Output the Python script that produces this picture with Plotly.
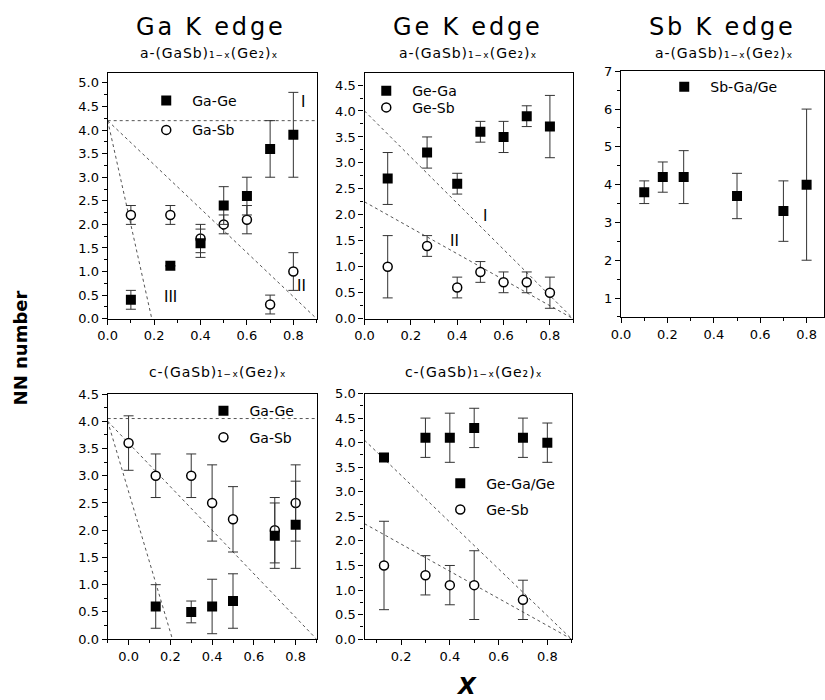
import plotly.graph_objects as go

# ---------------- data ----------------
# Panel 1: Ga K edge, a-(GaSb)1-x(Ge2)x
p1_x = [0.1, 0.27, 0.4, 0.5, 0.6, 0.7, 0.8]
p1_gage = [0.4, 1.12, 1.6, 2.4, 2.6, 3.6, 3.9]
p1_gage_err = [0.2, 0.0, 0.3, 0.4, 0.4, 0.6, 0.9]
p1_gasb = [2.2, 2.2, 1.7, 2.0, 2.1, 0.3, 1.0]
p1_gasb_err = [0.2, 0.2, 0.3, 0.2, 0.3, 0.2, 0.4]

# Panel 2: Ge K edge, a-(GaSb)1-x(Ge2)x
p2_x = [0.1, 0.27, 0.4, 0.5, 0.6, 0.7, 0.8]
p2_gega = [2.7, 3.2, 2.6, 3.6, 3.5, 3.9, 3.7]
p2_gega_err = [0.5, 0.3, 0.2, 0.2, 0.3, 0.2, 0.6]
p2_gesb = [1.0, 1.4, 0.6, 0.9, 0.7, 0.7, 0.5]
p2_gesb_err = [0.6, 0.2, 0.2, 0.2, 0.2, 0.2, 0.3]

# Panel 3: Sb K edge, a-(GaSb)1-x(Ge2)x
p3_x = [0.1, 0.18, 0.27, 0.5, 0.7, 0.8]
p3_sb = [3.8, 4.2, 4.2, 3.7, 3.3, 4.0]
p3_sb_err = [0.3, 0.4, 0.7, 0.6, 0.8, 2.0]

# Panel 4: Ga K edge, c-(GaSb)1-x(Ge2)x
p4_gage_x = [0.13, 0.3, 0.4, 0.5, 0.7, 0.8]
p4_gage = [0.6, 0.5, 0.6, 0.7, 1.9, 2.1]
p4_gage_err = [0.4, 0.2, 0.5, 0.5, 0.6, 0.8]
p4_gasb_x = [0.0, 0.13, 0.3, 0.4, 0.5, 0.7, 0.8]
p4_gasb = [3.6, 3.0, 3.0, 2.5, 2.2, 2.0, 2.5]
p4_gasb_err = [0.5, 0.4, 0.4, 0.7, 0.6, 0.6, 0.7]

# Panel 5: Ge K edge, c-(GaSb)1-x(Ge2)x
p5_gega_x = [0.13, 0.3, 0.4, 0.5, 0.7, 0.8]
p5_gega = [3.7, 4.1, 4.1, 4.3, 4.1, 4.0]
p5_gega_err = [0.08, 0.4, 0.5, 0.4, 0.4, 0.4]
p5_gesb_x = [0.13, 0.3, 0.4, 0.5, 0.7]
p5_gesb = [1.5, 1.3, 1.1, 1.1, 0.8]
p5_gesb_err = [0.9, 0.4, 0.4, 0.7, 0.4]

# Model guide lines (x pairs, y pairs)
p1_lineI = ([0.0, 0.9], [4.2, 4.2])
p1_lineII = ([0.0, 0.9], [4.2, 0.0])
p1_lineIII = ([0.0, 0.19], [4.2, 0.0])
p2_lineI = ([0.0, 0.9], [4.0, 0.0])
p2_lineII = ([0.0, 0.9], [2.25, 0.0])
p4_lineH = ([-0.1, 0.9], [4.05, 4.05])
p4_lineA = ([-0.1, 0.9], [4.0, 0.0])
p4_lineB = ([-0.1, 0.21], [4.0, 0.0])
p5_lineA = ([0.05, 0.9], [4.05, 0.0])
p5_lineB = ([0.05, 0.9], [2.35, 0.0])

W, H = 825, 700
FONT = "DejaVu Sans"

fig = go.Figure()

def px_x(p):
    return p / W

def px_y(p):
    return 1 - p / H

def sq_trace(x, y, e, ax, name, legend):
    return go.Scatter(
        x=x, y=y, mode="markers", name=name, legend=legend,
        xaxis="x" + ax, yaxis="y" + ax,
        marker=dict(symbol="square", size=10, color="black"),
        error_y=dict(type="data", array=e, visible=True, color="#333333",
                     thickness=1, width=5),
    )

def circ_trace(x, y, e, ax, name, legend):
    return go.Scatter(
        x=x, y=y, mode="markers", name=name, legend=legend,
        xaxis="x" + ax, yaxis="y" + ax,
        marker=dict(symbol="circle", size=9, color="white",
                    line=dict(color="black", width=1.5)),
        error_y=dict(type="data", array=e, visible=True, color="#333333",
                     thickness=1, width=5),
    )

def guide(line, ax):
    return go.Scatter(
        x=line[0], y=line[1], mode="lines", showlegend=False,
        xaxis="x" + ax, yaxis="y" + ax, hoverinfo="skip",
        line=dict(color="#555555", width=1, dash="dot"),
    )

for ln in (p1_lineI, p1_lineII, p1_lineIII):
    fig.add_trace(guide(ln, ""))
for ln in (p2_lineI, p2_lineII):
    fig.add_trace(guide(ln, "2"))
for ln in (p4_lineH, p4_lineA, p4_lineB):
    fig.add_trace(guide(ln, "4"))
for ln in (p5_lineA, p5_lineB):
    fig.add_trace(guide(ln, "5"))

fig.add_trace(circ_trace(p1_x, p1_gasb, p1_gasb_err, "", "Ga-Sb", "legend2"))
fig.add_trace(sq_trace(p1_x, p1_gage, p1_gage_err, "", "Ga-Ge", "legend"))
fig.add_trace(sq_trace(p2_x, p2_gega, p2_gega_err, "2", "Ge-Ga", "legend3"))
fig.add_trace(circ_trace(p2_x, p2_gesb, p2_gesb_err, "2", "Ge-Sb", "legend4"))
fig.add_trace(sq_trace(p3_x, p3_sb, p3_sb_err, "3", "Sb-Ga/Ge", "legend5"))
fig.add_trace(circ_trace(p4_gasb_x, p4_gasb, p4_gasb_err, "4", "Ga-Sb", "legend7"))
fig.add_trace(sq_trace(p4_gage_x, p4_gage, p4_gage_err, "4", "Ga-Ge", "legend6"))
fig.add_trace(sq_trace(p5_gega_x, p5_gega, p5_gega_err, "5", "Ge-Ga/Ge", "legend8"))
fig.add_trace(circ_trace(p5_gesb_x, p5_gesb, p5_gesb_err, "5", "Ge-Sb", "legend9"))

axis_common = dict(
    showline=True, linecolor="black", linewidth=1.2, mirror=True,
    ticks="outside", ticklen=5, tickwidth=1, tickcolor="black",
    showgrid=False, zeroline=False,
    tickfont=dict(family=FONT, size=13, color="black"),
)

def xax(domain, rng, dtick=0.2, anchor="y"):
    d = dict(axis_common)
    d.update(domain=domain, range=rng, dtick=dtick, tick0=0, tickformat=".1f",
             anchor=anchor, minor=dict(ticks="outside", ticklen=3, dtick=dtick / 2,
                                        tickcolor="black"))
    return d

def yax(domain, rng, dtick, fmt, anchor):
    d = dict(axis_common)
    d.update(domain=domain, range=rng, dtick=dtick, tick0=0, tickformat=fmt,
             anchor=anchor, minor=dict(ticks="outside", ticklen=3, dtick=dtick / 2,
                                        tickcolor="black"))
    return d

colL = [px_x(99), px_x(310.7)]
colM = [px_x(359.3), px_x(570.7)]
colR = [px_x(619.3), 1.0]
rowT = [px_y(318.5), px_y(67)]
rowB = [px_y(646), px_y(395.5)]

fig.update_layout(
    width=W, height=H,
    margin=dict(l=0, r=0, t=0, b=0),
    paper_bgcolor="white", plot_bgcolor="white",
    font=dict(family=FONT, color="black"),
    xaxis=xax(colL, [0, 0.9], anchor="y"),
    yaxis=yax(rowT, [0, 5.22], 0.5, ".1f", "x"),
    xaxis2=xax(colM, [0, 0.9], anchor="y2"),
    yaxis2=yax(rowT, [0, 4.74], 0.5, ".1f", "x2"),
    xaxis3=xax(colR, [0, 0.875], anchor="y3"),
    yaxis3=yax([px_y(316.7), px_y(65.7)], [0.5, 7.0001], 1, "d", "x3"),
    xaxis4=xax(colL, [-0.1, 0.9], anchor="y4"),
    yaxis4=yax(rowB, [0, 4.5001], 0.5, ".1f", "x4"),
    xaxis5=xax([px_x(359.3), px_x(569.3)], [0.05, 0.9], anchor="y5"),
    yaxis5=yax([px_y(646), px_y(395)], [0, 5.0001], 0.5, ".1f", "x5"),
)

# legends: one per entry, placed at reference marker centres
legend_pos = {
    "legend": (164, 96), "legend2": (164, 126),
    "legend3": (387, 86), "legend4": (387, 103),
    "legend5": (689, 82),
    "legend6": (222, 413), "legend7": (222, 440),
    "legend8": (462, 487), "legend9": (462, 514),
}
for key, (mx, my) in legend_pos.items():
    fig.update_layout({key: dict(
        x=px_x(mx - 32), y=px_y(my), xanchor="left", yanchor="middle",
        bgcolor="rgba(0,0,0,0)", borderwidth=0, itemwidth=42,
        font=dict(family=FONT, size=14, color="black"),
        itemclick=False, itemdoubleclick=False,
    )})

ann = []
def title(text, cx, cy, size, spacing):
    ann.append(dict(text='<span style="letter-spacing:%gpx">%s</span>' % (spacing, text),
                    x=px_x(cx), y=px_y(cy), xref="paper", yref="paper",
                    showarrow=False, xanchor="center", yanchor="middle",
                    font=dict(family=FONT, size=size, color="black")))

sub_a = "a-(GaSb)₁₋ₓ(Ge₂)ₓ"
sub_c = "c-(GaSb)₁₋ₓ(Ge₂)ₓ"
title("Ga K edge", 204, 20, 24, 2.8)
title("Ge K edge", 464, 20, 24, 2.8)
title("Sb K edge", 722, 20, 24, 2.8)
title(sub_a, 202, 47, 14, 0.9)
title(sub_a, 464, 47, 14, 0.9)
title(sub_a, 724, 47, 14, 0.9)
title(sub_c, 211, 373, 14, 0.9)
title(sub_c, 470, 373, 14, 0.9)

ann.append(dict(text="<b>NN number</b>", x=px_x(11), y=px_y(348), xref="paper", yref="paper",
                showarrow=False, textangle=-90, xanchor="center", yanchor="middle",
                font=dict(family=FONT, size=18, color="black")))
ann.append(dict(text="<b><i>X</i></b>", x=px_x(463), y=px_y(694), xref="paper", yref="paper",
                showarrow=False, xanchor="center", yanchor="middle",
                font=dict(family=FONT, size=23, color="black")))

def roman(text, x, y, ax):
    ann.append(dict(text=text, x=x, y=y, xref="x" + ax, yref="y" + ax, showarrow=False,
                    xanchor="center", yanchor="middle",
                    font=dict(family=FONT, size=15, color="black")))

roman("I", 0.84, 4.6, "")
roman("II", 0.835, 0.7, "")
roman("III", 0.27, 0.46, "")
roman("I", 0.52, 1.98, "2")
roman("II", 0.39, 1.5, "2")

fig.update_layout(annotations=ann)
fig.write_html("out.html")
